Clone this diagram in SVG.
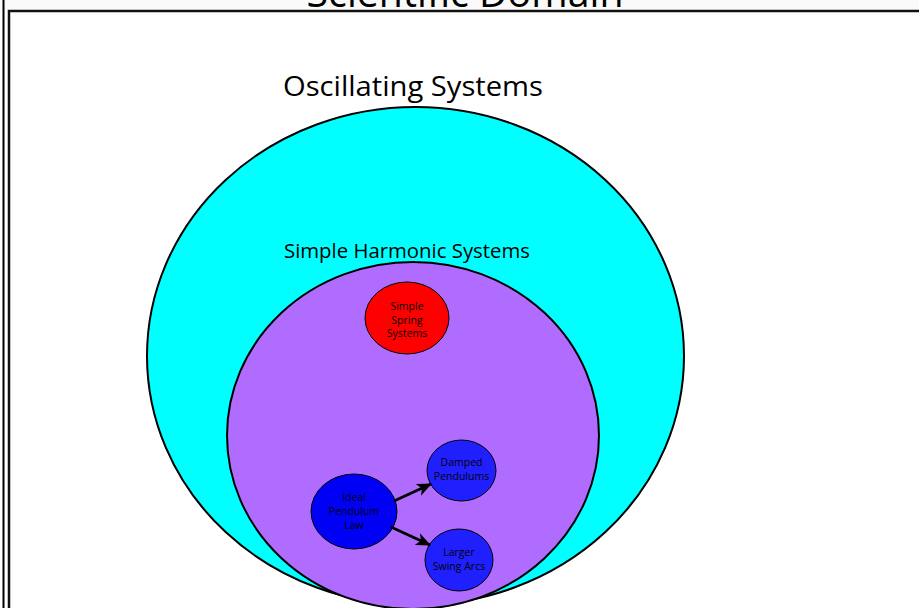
<svg xmlns="http://www.w3.org/2000/svg" width="919" height="608" viewBox="0 0 919 608">
<defs>
<style>
.lbl{font-family:"Open Sans","Noto Sans","Liberation Sans",sans-serif;fill:#000}
.sm{font-family:"Open Sans","Noto Sans","Liberation Sans",sans-serif;font-size:10.5px;fill:#000;text-anchor:middle}
.node{stroke:#000;stroke-width:1}
.conn{stroke:#000;stroke-width:3;fill:none}
</style>
<marker id="ah" markerWidth="15" markerHeight="13" refX="14" refY="6.5" orient="auto" markerUnits="userSpaceOnUse">
<path d="M0,0 L15,6.5 L0,13 L4,6.5 Z" fill="#000"/>
</marker>
</defs>
<rect x="0" y="0" width="919" height="608" fill="#fff"/>
<rect x="0" y="0" width="919" height="10" fill="#fafafa"/>
<g id="frame">
<line x1="3.5" y1="0" x2="3.5" y2="608" stroke="#000" stroke-width="2"/>
<rect x="9" y="11" width="1000" height="1000" fill="none" stroke="#111" stroke-width="2.5"/>
<text class="lbl" x="465" y="7" font-size="40" text-anchor="middle" font-family="Liberation Sans, Arial, sans-serif" textLength="317" lengthAdjust="spacingAndGlyphs">Scientific Domain</text>
</g>
<g id="oscillating">
<ellipse cx="415.5" cy="356" rx="268.5" ry="249" fill="#00ffff" stroke="#000" stroke-width="2"/>
<text class="lbl" x="283" y="96" font-size="28" textLength="260" lengthAdjust="spacingAndGlyphs">Oscillating Systems</text>
</g>
<g id="simple-harmonic">
<ellipse cx="413" cy="435.5" rx="186" ry="173.5" fill="#af6cff" stroke="#000" stroke-width="2"/>
<text class="lbl" x="284" y="258" font-size="20.5" textLength="246" lengthAdjust="spacingAndGlyphs">Simple Harmonic Systems</text>
</g>
<g id="spring">
<ellipse class="node" cx="407" cy="318" rx="42" ry="36" fill="#ff0000"/>
<text class="sm" x="407" y="310">Simple</text>
<text class="sm" x="407" y="324">Spring</text>
<text class="sm" x="407" y="337">Systems</text>
</g>
<g id="ideal">
<ellipse class="node" cx="354" cy="511.5" rx="43" ry="37.5" fill="#0000f4"/>
<text class="sm" x="354" y="501">Ideal</text>
<text class="sm" x="354" y="515">Pendulum</text>
<text class="sm" x="354" y="529">Law</text>
</g>
<g id="damped">
<ellipse class="node" cx="461.5" cy="470.5" rx="34.5" ry="30.5" fill="#2020ff"/>
<text class="sm" x="461.5" y="466">Damped</text>
<text class="sm" x="461.5" y="480">Pendulums</text>
</g>
<g id="larger">
<ellipse class="node" cx="459" cy="560" rx="34" ry="31" fill="#2020ff"/>
<text class="sm" x="459" y="556">Larger</text>
<text class="sm" x="459" y="570">Swing Arcs</text>
</g>
<g id="connectors">
<line class="conn" x1="394" y1="501" x2="431" y2="484" marker-end="url(#ah)"/>
<line class="conn" x1="391" y1="527" x2="430" y2="545" marker-end="url(#ah)"/>
</g>
</svg>
